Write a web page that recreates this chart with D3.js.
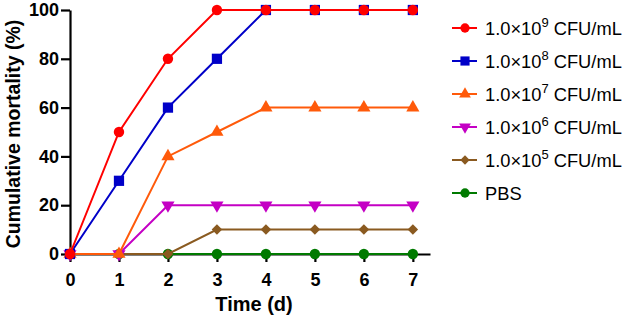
<!DOCTYPE html>
<html>
<head>
<meta charset="utf-8">
<script src="https://cdn.jsdelivr.net/npm/d3@7"></script>
<style>
  body { margin: 0; background: #fff; }
  svg { display: block; font-family: "Liberation Sans", Arial, sans-serif; }
</style>
</head>
<body>
<div id="chart"></div>
<script>
// Data
const days = [0, 1, 2, 3, 4, 5, 6, 7];
const yTicks = [0, 20, 40, 60, 80, 100];
const seriesNames = ["1.0×10^9", "1.0×10^8", "1.0×10^7", "1.0×10^6", "1.0×10^5", "PBS"];
const mort9 = [0, 50, 80, 100, 100, 100, 100, 100];
const mort8 = [0, 30, 60, 80, 100, 100, 100, 100];
const mort7 = [0, 0, 40, 50, 60, 60, 60, 60];
const mort6 = [0, 0, 20, 20, 20, 20, 20, 20];
const mort5 = [0, 0, 0, 10, 10, 10, 10, 10];
const mortPBS = [0, 0, 0, 0, 0, 0, 0, 0];

const series = [
    { name: seriesNames[0], values: mort9, color: "#ff0000", shape: "circle" },
    { name: seriesNames[1], values: mort8, color: "#0000c8", shape: "square" },
    { name: seriesNames[2], values: mort7, color: "#ff5a0a", shape: "triUp" },
    { name: seriesNames[3], values: mort6, color: "#c400c4", shape: "triDown" },
    { name: seriesNames[4], values: mort5, color: "#8a5a20", shape: "diamond" },
    { name: seriesNames[5], values: mortPBS, color: "#007a00", shape: "circle" }
];

const W = 624, H = 321;
const svg = d3.select("#chart").append("svg")
    .attr("width", W).attr("height", H);

const x = d3.scaleLinear().domain([0, 7.35]).range([70, 430]);
const y = d3.scaleLinear().domain([0, 100]).range([254, 10]);

function symbolPath(shape, scale) {
    const s = scale || 1;
    if (shape === "circle") return d3.symbol(d3.symbolCircle, 85 * s)();
    if (shape === "square") return d3.symbol(d3.symbolSquare, 105 * s)();
    if (shape === "triUp" || shape === "triDown") return d3.symbol(d3.symbolTriangle, 75 * s)();
    if (shape === "diamond") return d3.symbol(d3.symbolSquare, 55 * s)();
}
function symbolRotate(shape) {
    if (shape === "triDown") return 180;
    if (shape === "diamond") return 45;
    return 0;
}

// Axes
const gy = svg.append("g")
    .attr("transform", `translate(${x(0)},0)`)
    .call(d3.axisLeft(y).tickValues(yTicks).tickSize(9).tickPadding(2).tickSizeOuter(0));
const gx = svg.append("g")
    .attr("transform", `translate(0,${y(0)})`)
    .call(d3.axisBottom(x).tickValues(days).tickSize(8).tickPadding(11).tickSizeOuter(0));

[gx, gy].forEach(g => {
    g.select(".domain").attr("stroke", "#000").attr("stroke-width", 2.2);
    g.selectAll(".tick line").attr("stroke", "#000").attr("stroke-width", 2.2);
    g.selectAll("text")
        .style("font-family", "'Liberation Sans', Arial, sans-serif")
        .style("font-size", "18px")
        .style("font-weight", "700")
        .attr("fill", "#000");
});

svg.append("text")
    .attr("transform", `translate(20,${(y(0) + y(100)) / 2 + 2}) rotate(-90)`)
    .attr("text-anchor", "middle")
    .style("font-size", "19.5px")
    .style("font-weight", "700")
    .text("Cumulative mortality (%)");

svg.append("text")
    .attr("x", 254)
    .attr("y", 311)
    .attr("text-anchor", "middle")
    .style("font-size", "20px")
    .style("font-weight", "700")
    .text("Time (d)");

// Series (PBS drawn first, highest dose last)
const line = d3.line().x((d, i) => x(days[i])).y(d => y(d));
const plot = svg.append("g");
series.slice().reverse().forEach(s => {
    const g = plot.append("g");
    g.append("path")
        .attr("d", line(s.values))
        .attr("fill", "none")
        .attr("stroke", s.color)
        .attr("stroke-width", 2);
    g.selectAll("path.pt")
        .data(s.values)
        .join("path")
        .attr("class", "pt")
        .attr("d", symbolPath(s.shape))
        .attr("transform", (d, i) => `translate(${x(days[i])},${y(d)}) rotate(${symbolRotate(s.shape)})`)
        .attr("fill", s.color);
});

// Legend
const legendY = d3.scaleLinear().domain([0, 5]).range([28, 193]);
const lg = svg.append("g");
series.forEach((s, i) => {
    const cy = legendY(i);
    lg.append("line")
        .attr("x1", 452).attr("x2", 477)
        .attr("y1", cy).attr("y2", cy)
        .attr("stroke", s.color).attr("stroke-width", 2);
    lg.append("path")
        .attr("d", symbolPath(s.shape, 0.8))
        .attr("transform", `translate(465,${cy}) rotate(${symbolRotate(s.shape)})`)
        .attr("fill", s.color);
    const t = lg.append("text")
        .attr("x", 485)
        .attr("y", cy + 6.5)
        .style("font-size", "18.3px");
    if (s.name.includes("^")) {
        const [base, exp] = s.name.split("^");
        t.append("tspan").text(base);
        t.append("tspan").attr("dy", -7.5).style("font-size", "13px").text(exp);
        t.append("tspan").attr("dy", 7.5).text(" CFU/mL");
    } else {
        t.text(s.name);
    }
});
</script>
</body>
</html>
